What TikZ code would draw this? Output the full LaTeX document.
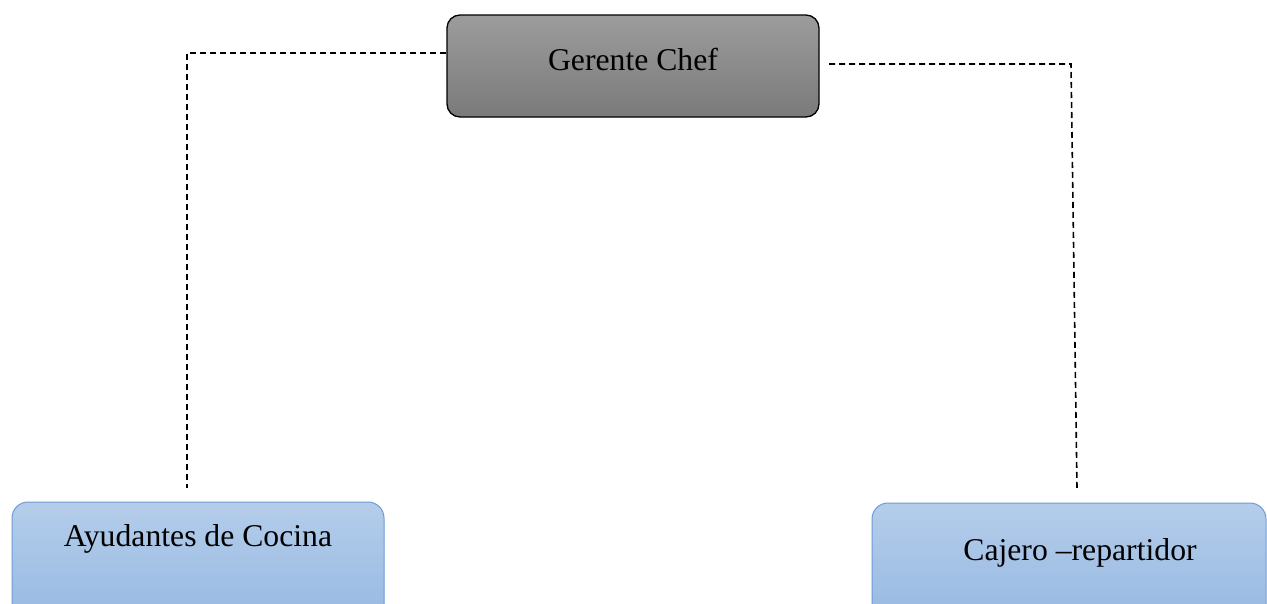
\documentclass[tikz,border=0pt]{standalone}
\usepackage{fontspec}
\setmainfont{Liberation Serif}
\usetikzlibrary{calc}
\definecolor{chefTop}{HTML}{9C9C9C}
\definecolor{chefBot}{HTML}{7A7A7A}
\definecolor{staffTop}{HTML}{B4CDEA}
\definecolor{staffBot}{HTML}{95B7E2}
\definecolor{staffLine}{HTML}{6E9BD5}
\tikzset{
  chefbox/.style={draw=black, line width=1.3pt, rounded corners=13pt,
    top color=chefTop, bottom color=chefBot, inner sep=0pt},
  staffbox/.style={draw=staffLine, line width=1pt, rounded corners=16pt,
    top color=staffTop, bottom color=staffBot, inner sep=0pt},
  boxtext/.style={font=\fontsize{31.7}{36}\selectfont, anchor=base, inner sep=0pt},
  link/.style={line width=1.6pt, dash pattern=on 6pt off 4pt},
}
\begin{document}
\begin{tikzpicture}[x=1pt, y=-1pt]
\useasboundingbox (0,0) rectangle (1267,603);
\clip (0,0) rectangle (1267,603);
% boxes
\node[chefbox, minimum width=372pt, minimum height=102pt] (chef) at (633,66) {};
\node[staffbox, minimum width=372pt, minimum height=130pt] (ayud) at (198,567) {};
\node[staffbox, minimum width=394pt, minimum height=130pt] (caj) at (1069,568) {};
% labels
\node[boxtext] (chefT) at (633,70) {Gerente Chef};
\node[boxtext] (ayudT) at (198,546) {Ayudantes de Cocina};
\node[boxtext] (cajT) at (1080,560) {Cajero –repartidor};
% dashed reporting lines
\coordinate (lcorner) at (187,53);
\coordinate (lend) at (187,488);
\coordinate (rstart) at (829,64);
\coordinate (rcorner) at (1071,64);
\coordinate (rend) at (1077,488);
\draw[link] (chef.west |- lcorner) -- (lcorner) -- (lend);
\draw[link] (rstart) -- (rcorner) -- (rend);
\end{tikzpicture}
\end{document}
